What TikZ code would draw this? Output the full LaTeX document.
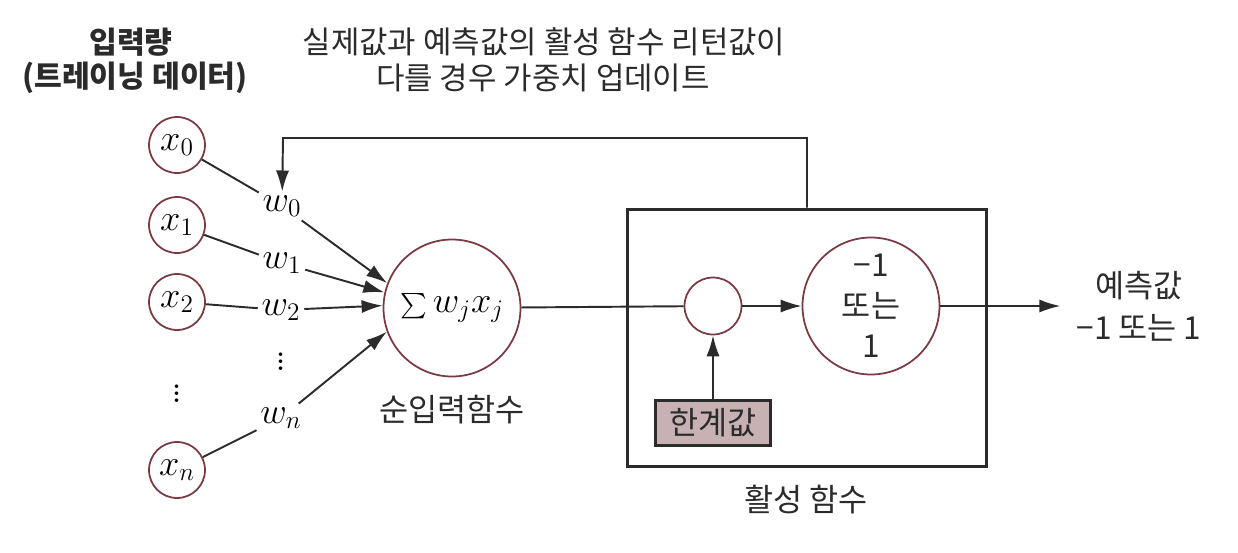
\documentclass[tikz,border=0pt]{standalone}
\usepackage{amsmath}
\usepackage{fontspec}
\newfontfamily\kr{Noto Sans CJK KR}
\usetikzlibrary{arrows.meta,positioning}
\definecolor{Ink}{HTML}{2B2B2B}
\definecolor{Maroon}{HTML}{7A3A44}
\definecolor{Mauve}{HTML}{C7B1B3}
\tikzset{
  >={Latex[length=12pt,width=7.5pt]},
  unit/.style={circle,draw=Maroon,line width=1pt,fill=white,inner sep=0pt},
  inp/.style={unit,minimum size=1.12cm,font=\fontsize{20}{22}\selectfont},
  big/.style={unit,minimum size=2.74cm},
  wt/.style={inner sep=2pt,font=\fontsize{20}{22}\selectfont},
  dots/.style={inner sep=0pt,font=\fontsize{25}{27}\selectfont},
  wire/.style={draw=Ink,line width=1.1pt},
  lab/.style={font=\kr\fontsize{18}{24}\selectfont,text=Ink,align=center},
  toplab/.style={font=\kr\fontsize{17.6}{22}\selectfont,text=Ink,align=center},
  boldlab/.style={toplab,font=\kr\bfseries\fontsize{17.2}{22}\selectfont},
  actbox/.style={draw=Ink,line width=1.7pt,minimum width=7.2cm,minimum height=5.16cm},
  limbox/.style={draw=Ink,line width=1.6pt,fill=Mauve,minimum width=2.3cm,minimum height=.9cm,inner sep=1pt,font=\kr\fontsize{18}{22}\selectfont,text=Ink}
}
\newcommand\sumsign{{\fontsize{15}{17}\selectfont$\sum$}}
\begin{document}
\begin{tikzpicture}[x=.02cm,y=-.02cm]
\useasboundingbox (0,0) rectangle (1238,552);
% titles
\node[boldlab] (t1) at (131,42) {입력량};
\node[boldlab] (t2) at (135,78) {(트레이닝 데이터)};
\node[toplab] (u1) at (544,42) {실제값과 예측값의 활성 함수 리턴값이};
\node[toplab] (u2) at (543,78) {다를 경우 가중치 업데이트};
% inputs and weights
\node[inp] (x0) at (177,145) {$x_0$};
\node[inp] (x1) at (177,225) {$x_1$};
\node[inp] (x2) at (177,302) {$x_2$};
\node[dots] (xd) at (177,388) {$\vdots$};
\node[inp] (xn) at (177,470) {$x_n$};
\node[wt] (w0) at (282,206) {$w_0$};
\node[wt] (w1) at (282,263) {$w_1$};
\node[wt] (w2) at (281,310) {$w_2$};
\node[dots] (wd) at (281,356) {$\vdots$};
\node[wt] (wn) at (281,418) {$w_n$};
% net input
\node[big,font=\fontsize{20}{22}\selectfont] (net) at (452,308) {\sumsign$\,w_j x_j$};
\node[lab] (netlab) at (452,410) {순입력함수};
% activation
\node[actbox] (act) at (807,338) {};
\node[unit,minimum size=1.14cm] (cmp) at (713,306) {};
\node[big,lab,font=\kr\fontsize{18}{23}\selectfont] (sgn) at (871,306) {−1\\또는\\1};
\node[limbox] (lim) at (713,423) {한계값};
\node[lab] (actlab) at (806,500) {활성 함수};
\node[lab,inner sep=9pt] (pred) at (1139,306) {예측값\\−1 또는 1};
\coordinate (fbk) at (283,138);
% connectors
\draw[wire] (x0) -- (w0); \draw[wire,->] (w0) -- (net.159);
\draw[wire] (x1) -- (w1); \draw[wire,->] (w1) -- (net.167);
\draw[wire] (x2) -- (w2); \draw[wire,->] (w2) -- (net.178);
\draw[wire] (xn) -- (wn); \draw[wire,->] (wn) -- (net.200);
\draw[wire] (net) -- (cmp);
\draw[wire,->] (cmp) -- (sgn);
\draw[wire,->] (lim) -- (cmp);
\draw[wire,->] (sgn) -- (pred);
\draw[wire,->] (act.north) |- (fbk) -- (w0);
\end{tikzpicture}
\end{document}
